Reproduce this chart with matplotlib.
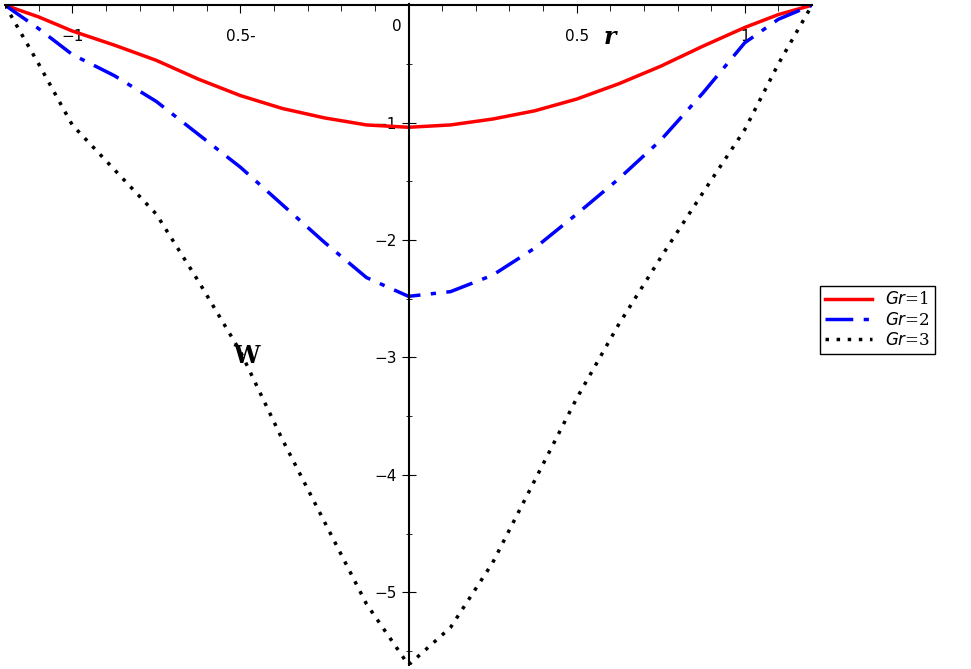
import matplotlib.pyplot as plt
import numpy as np

r = [-1.2, -1.1, -1.0, -0.875, -0.75, -0.625, -0.5, -0.375, -0.25, -0.125, 0.0,
     0.125, 0.25, 0.375, 0.5, 0.625, 0.75, 0.875, 1.0, 1.1, 1.2]
w_gr1 = [0.0, -0.1, -0.22, -0.34, -0.47, -0.63, -0.77, -0.88, -0.96, -1.02, -1.04,
         -1.02, -0.97, -0.9, -0.8, -0.67, -0.52, -0.35, -0.19, -0.08, 0.0]
w_gr2 = [0.0, -0.2, -0.42, -0.6, -0.82, -1.1, -1.38, -1.7, -2.02, -2.32, -2.48,
         -2.44, -2.3, -2.07, -1.78, -1.48, -1.15, -0.75, -0.32, -0.12, 0.0]
w_gr3 = [0.0, -0.5, -1.02, -1.4, -1.78, -2.35, -2.95, -3.7, -4.4, -5.1, -5.62,
         -5.3, -4.75, -4.05, -3.35, -2.72, -2.15, -1.6, -1.06, -0.5, 0.0]

fig = plt.figure(figsize=(9.71, 6.69), dpi=100)
ax = fig.add_axes([5/971, 4/669, 807/971, 661/669])

ax.plot(r, w_gr1, color='red', lw=2.5, label='$Gr$=1')
ax.plot(r, w_gr2, color='blue', lw=2.5, ls=(0, (8, 3, 1.5, 3)), label='$Gr$=2')
ax.plot(r, w_gr3, color='black', lw=2.5, ls=(0, (1, 2.2)), label='$Gr$=3')

ax.set_xlim(-1.2, 1.2)
ax.set_ylim(-5.62, 0.01)
ax.spines['left'].set_position(('data', 0))
ax.spines['top'].set_position(('data', 0))
ax.spines['right'].set_visible(False)
ax.spines['bottom'].set_visible(False)
ax.spines['left'].set_linewidth(1.5)
ax.spines['top'].set_linewidth(1.5)
ax.xaxis.set_ticks_position('top')
ax.xaxis.set_label_position('top')
ax.set_xticks([-1, -0.5, 0.5, 1])
ax.set_xticklabels(['\u22121', '0.5-', '0.5', '1'])
ax.set_xticks(np.arange(-1.1, 1.15, 0.1), minor=True)
ax.set_yticks([-1, -2, -3, -4, -5])
ax.set_yticklabels(['\u22121', '\u22122', '\u22123', '\u22124', '\u22125'])
ax.set_yticks(np.arange(-5.5, 0, 0.5), minor=True)
ax.tick_params(axis='x', which='both', direction='in', pad=-28, labelsize=11, length=6)
ax.tick_params(axis='x', which='minor', length=4)
ax.tick_params(axis='y', which='major', direction='inout', length=10, labelsize=11)
ax.tick_params(axis='y', which='minor', direction='inout', length=5)
ax.text(-0.02, -0.22, '0', fontsize=11, ha='right')
ax.text(0.58, -0.33, 'r', fontsize=17, fontstyle='italic', fontweight='bold', family='serif')
ax.text(-0.52, -3.05, 'W', fontsize=17, fontweight='bold', family='serif')

fig.legend(loc='upper left', bbox_to_anchor=(812/971, 1 - 278/669), fancybox=False,
           edgecolor='black', framealpha=1, handlelength=2.8,
           prop={'family': 'serif', 'size': 12}, borderpad=0.3, labelspacing=0.2)

fig.savefig('out.png')
